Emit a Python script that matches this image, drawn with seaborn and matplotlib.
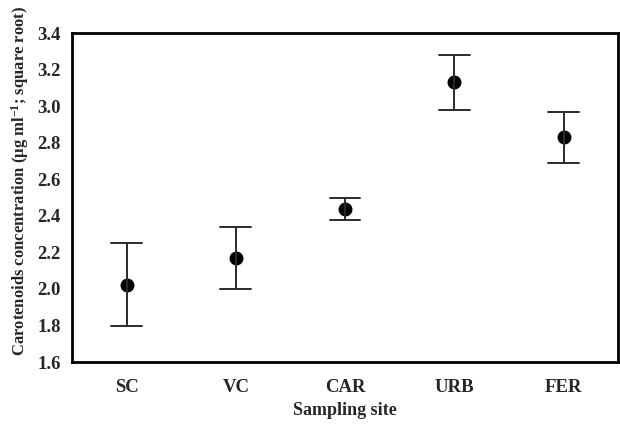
import pandas as pd
import seaborn as sns
import matplotlib.pyplot as plt

sites = ['SC', 'VC', 'CAR', 'URB', 'FER']
means = [2.02, 2.17, 2.44, 3.13, 2.83]
lower = [1.80, 2.00, 2.38, 2.98, 2.69]
upper = [2.25, 2.34, 2.50, 3.28, 2.97]

# long table: low / centre / high per site -> median + full range gives point and bar
rows = []
for s, m, lo, hi in zip(sites, means, lower, upper):
    for v in (lo, m, hi):
        rows.append({'site': s, 'value': v})
df = pd.DataFrame(rows)

sns.set_style('white')
plt.rcParams['font.family'] = ['Liberation Serif', 'DejaVu Serif']
plt.rcParams['font.weight'] = 'bold'
plt.rcParams['mathtext.default'] = 'regular'

fig = plt.figure(figsize=(6.2, 4.24), dpi=100)
ax = fig.add_axes([0.116, 0.146, 0.881, 0.776])

sns.pointplot(data=df, x='site', y='value', order=sites, estimator='median',
              errorbar=('pi', 100), linestyle='none', color='black',
              markersize=8, capsize=0.28, err_kws={'linewidth': 1.4, 'color': '#2b2b2b'},
              ax=ax)

ax.set_ylim(1.6, 3.4)
ax.set_yticks([1.6, 1.8, 2.0, 2.2, 2.4, 2.6, 2.8, 3.0, 3.2, 3.4])
ax.set_yticklabels([f'{t:.1f}' for t in ax.get_yticks()])
ax.set_xlim(-0.5, 4.5)
ax.tick_params(axis='y', length=0, labelsize=13.5, pad=8)
ax.tick_params(axis='x', length=0, labelsize=13.5, pad=12)
for lab in ax.get_xticklabels() + ax.get_yticklabels():
    lab.set_fontweight('bold')

for sp in ax.spines.values():
    sp.set_visible(True)
    sp.set_color('black')
    sp.set_linewidth(2)

ax.set_xlabel('Sampling site', fontsize=13, fontweight='bold')
ax.xaxis.set_label_coords(0.5, -0.12)
ax.set_ylabel('Carotenoids concentration (µg ml$^{-1}$; square root)',
              fontsize=12, fontweight='bold')
ax.yaxis.set_label_coords(-0.075, 0.55)

fig.savefig('out.png', dpi=100)
